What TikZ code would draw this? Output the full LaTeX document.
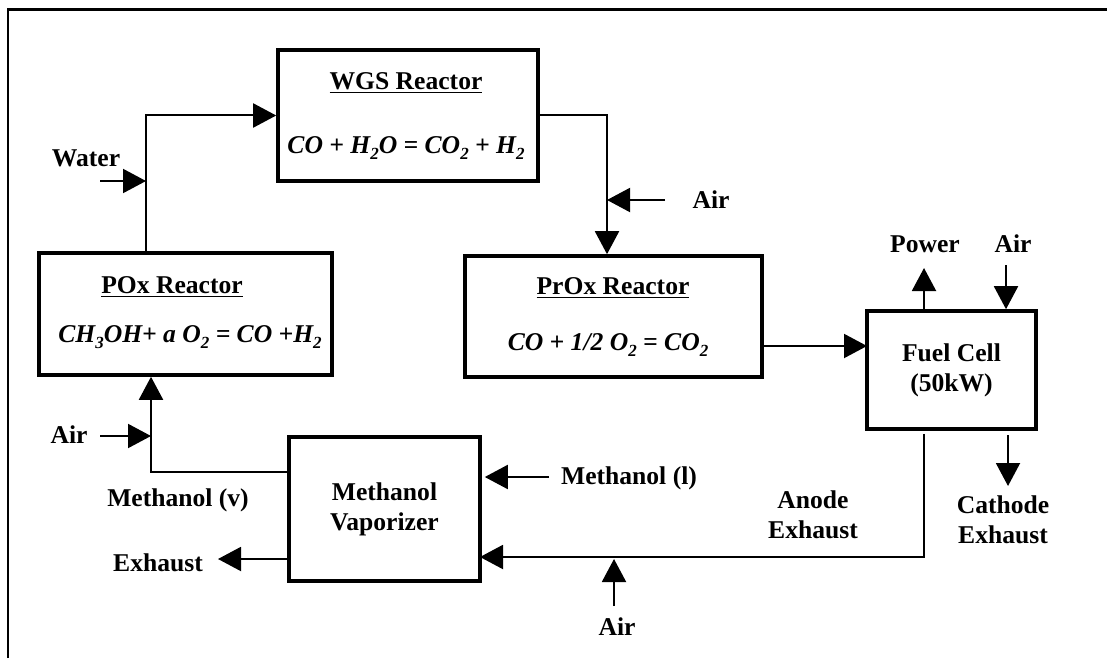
\documentclass[tikz,border=0pt]{standalone}
\usepackage{fontspec}
\setmainfont{Liberation Serif}
\usetikzlibrary{arrows.meta,positioning}
\newcommand\lowsub[1]{\raisebox{-0.5ex}{\fontsize{8.5}{9}\selectfont #1}}

\begin{document}
\begin{tikzpicture}[
    x=0.5pt, y=-0.5pt,
    font=\fontsize{12.8}{15}\selectfont\bfseries,
    box/.style={draw, line width=1.8pt, align=center, inner sep=0pt},
    lbl/.style={align=center, inner sep=1pt},
    eqn/.style={font=\fontsize{12.8}{15}\selectfont\bfseries\itshape, inner sep=1pt},
    flow/.style={-{Triangle[length=11.5pt,width=12pt]}, line width=1pt}
]
  \useasboundingbox (0,0) rectangle (1107,658);
  % open frame
  \draw[line width=1.2pt] (8,658) -- (8,9.5) -- (1107,9.5);

  % units
  \node[box, minimum width=130pt, minimum height=65.5pt] (wgs) at (408,115.5) {};
  \node[box, minimum width=146.5pt, minimum height=61pt] (pox) at (185.5,314) {};
  \node[box, minimum width=148.5pt, minimum height=60.5pt] (prox) at (613.5,316.5) {};
  \node[box, minimum width=95.5pt, minimum height=72pt] (vap) at (384.5,509) {Methanol\\Vaporizer};
  \node[box, minimum width=84.5pt, minimum height=59pt] (fc) at (951.5,370) {Fuel Cell\\(50kW)};

  \node[lbl] (wgst) at (406,83) {\underline{WGS Reactor}};
  \node[eqn] (wgse) at (406,148) {CO + H\lowsub{2}O = CO\lowsub{2} + H\lowsub{2}};
  \node[lbl] (poxt) at (172,287) {\underline{POx Reactor}};
  \node[eqn] (poxe) at (190,337) {CH\lowsub{3}OH+ a O\lowsub{2} = CO +H\lowsub{2}};
  \node[lbl] (proxt) at (613,288) {\underline{PrOx Reactor}};
  \node[eqn] (proxe) at (608,345) {CO + 1/2 O\lowsub{2} = CO\lowsub{2}};

  % stream labels
  \node[lbl] (water) at (86,158) {Water};
  \node[lbl] (air1) at (711,200) {Air};
  \node[lbl] (power) at (925,244) {Power};
  \node[lbl] (air2) at (1013,244) {Air};
  \node[lbl] (cath) at (1003,520) {Cathode\\Exhaust};
  \node[lbl] (anode) at (813,515) {Anode\\Exhaust};
  \node[lbl] (meoh) at (629,478) {Methanol (l)};
  \node[lbl] (air3) at (617,627) {Air};
  \node[lbl] (exh) at (158,563) {Exhaust};
  \node[lbl] (meov) at (178,500) {Methanol (v)};
  \node[lbl] (air4) at (69,435) {Air};

  % junctions and free ends
  \coordinate (wmix) at (146,181);
  \coordinate (wsrc) at (100,181);
  \coordinate (amix) at (607,200);
  \coordinate (asrc) at (665,200);
  \coordinate (fcin) at (867,346);
  \coordinate (pwr) at (924,268);
  \coordinate (fcair) at (1006,265);
  \coordinate (cathtop) at (1008,435);
  \coordinate (cathend) at (1008,486);
  \coordinate (vapin) at (480,557);
  \coordinate (bsrc) at (614,606);
  \coordinate (bmix) at (614,559);
  \coordinate (msrc) at (549,477);
  \coordinate (exend) at (218,559);
  \coordinate (vmix) at (151,436);
  \coordinate (vsrc) at (100,436);
  \coordinate (vout) at (151,472);

  \draw[flow] (pox.north -| wmix) |- (wgs.west);
  \draw[flow] (wsrc) -- (wmix);
  \draw[flow] (wgs.east) -| (prox.north -| amix);
  \draw[flow] (asrc) -- (amix);
  \draw[flow] (prox.east |- fcin) -- (fcin);
  \draw[flow] (fc.north -| pwr) -- (pwr);
  \draw[flow] (fcair) -- (fc.north -| fcair);
  \draw[flow] (cathtop) -- (cathend);
  \draw[flow] ([yshift=-1.5pt]fc.south -| pwr) |- (vapin);
  \draw[flow] (bsrc) -- (bmix);
  \draw[flow] (msrc) -- ([xshift=1.5pt]vap.east |- msrc);
  \draw[flow] (vap.west |- exend) -- (exend);
  \draw[flow] (vap.west |- vout) -| (pox.south -| vout);
  \draw[flow] (vsrc) -- (vmix);
\end{tikzpicture}
\end{document}
